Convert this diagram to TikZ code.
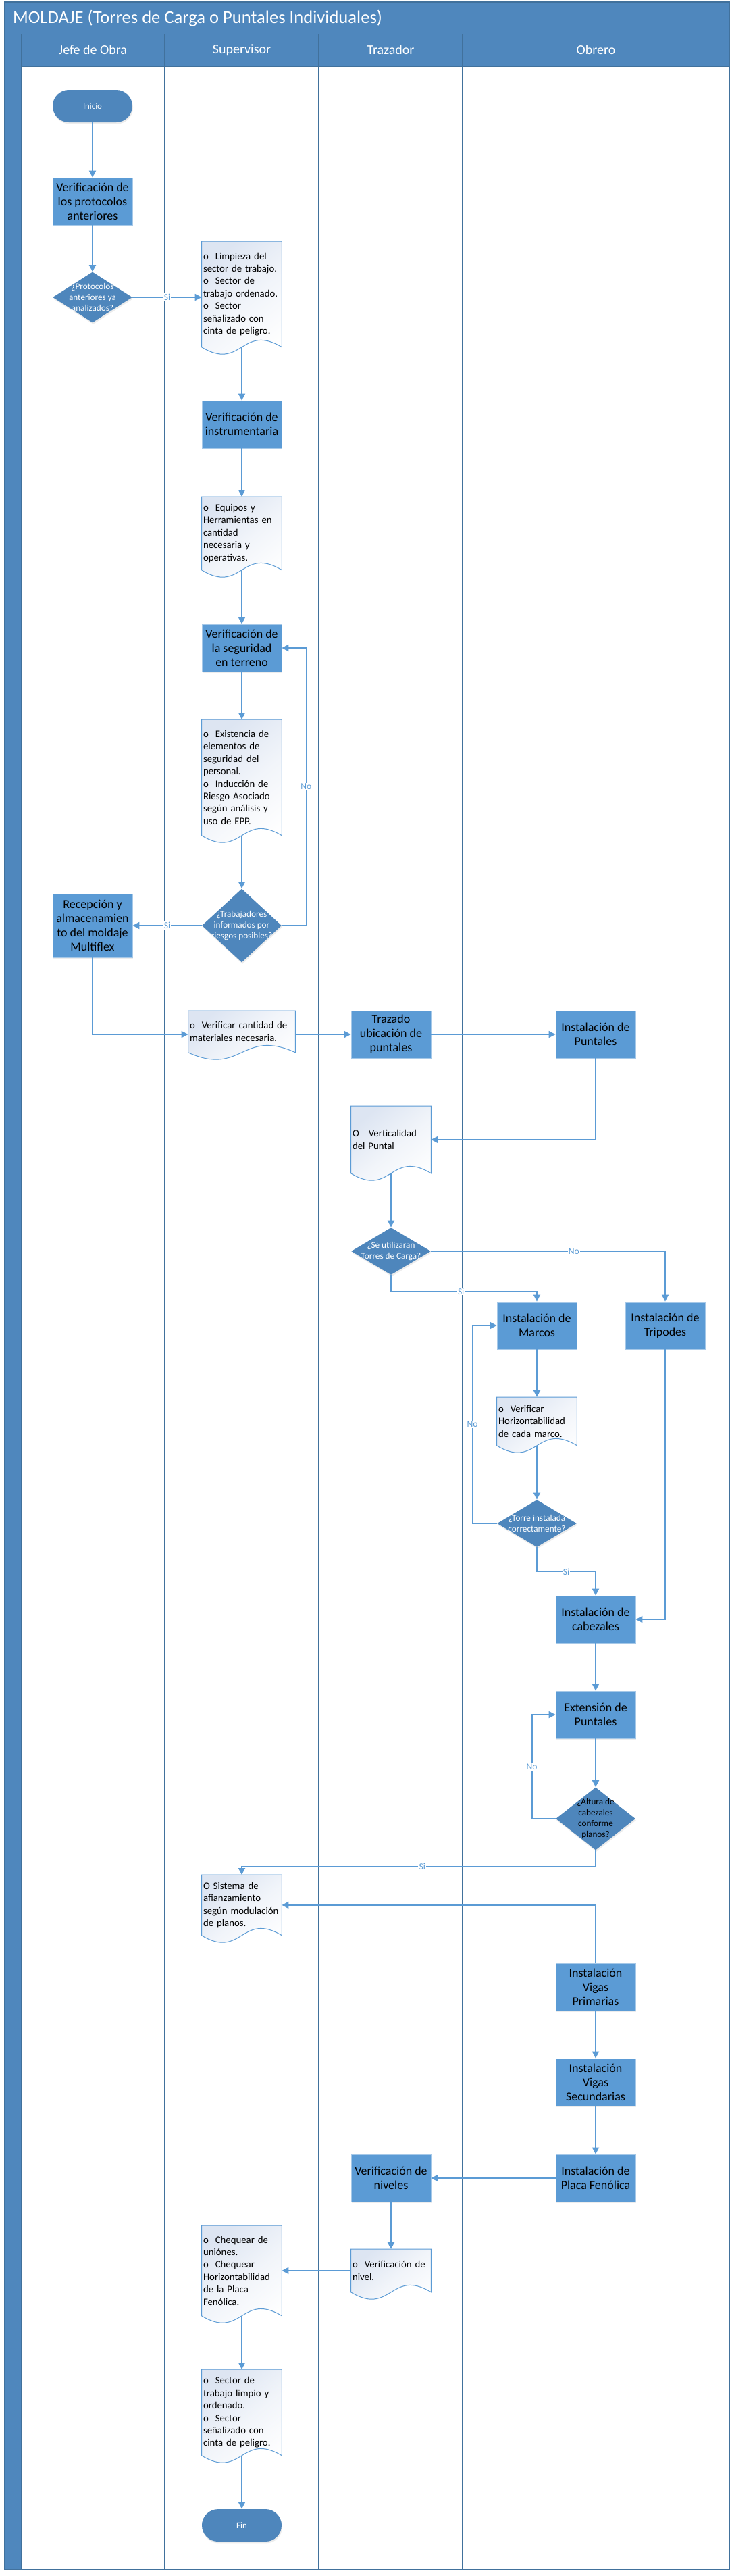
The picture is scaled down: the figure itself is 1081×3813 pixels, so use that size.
\documentclass[tikz,border=0pt]{standalone}
\usepackage{fontspec}
\setmainfont{Carlito}
\usetikzlibrary{arrows.meta,shapes.geometric,calc,shadows}

\definecolor{headBlue}{HTML}{4F87BD}
\definecolor{laneLine}{HTML}{41719C}
\definecolor{procBlue}{HTML}{5B9BD5}
\definecolor{decBlue}{HTML}{4E86BC}
\definecolor{flowBlue}{HTML}{5B9BD5}
\definecolor{docShade}{HTML}{DDE5F2}

\pgfdeclarelayer{back}
\pgfsetlayers{back,main}

% hoja con borde ondulado detras del nodo
\newcommand{\docOutline}[1]{%
  \begin{pgfonlayer}{back}
    \draw[docline] (#1.south west) -- (#1.north west) -- (#1.north east) -- (#1.south east)
      .. controls ($(#1.south)+(0,-36)$) and ($(#1.south)+(0,36)$) .. (#1.south west) -- cycle;
  \end{pgfonlayer}}

\begin{document}
\begin{tikzpicture}[x=0.5pt, y=-0.5pt,
    proc/.style={rectangle, fill=procBlue, draw=procBlue!55!white, line width=0.4pt,
        minimum width=59pt, minimum height=35pt, inner sep=1pt, align=center,
        font=\fontsize{9}{10.5}\selectfont,
        drop shadow={opacity=0.15, shadow xshift=0.5pt, shadow yshift=-1.2pt}},
    term/.style={rectangle, rounded corners=11.9pt, fill=decBlue, minimum width=59pt,
        minimum height=24pt, text=white, font=\fontsize{6.4}{8}\selectfont,
        drop shadow={opacity=0.15, shadow xshift=0.5pt, shadow yshift=-1.2pt}},
    decision/.style={diamond, fill=decBlue, inner sep=0pt, minimum width=59pt, minimum height=35pt,
        drop shadow={opacity=0.15, shadow xshift=0.5pt, shadow yshift=-1.2pt}},
    dectext/.style={text=white, align=center, inner sep=0pt, font=\fontsize{6.6}{8}\selectfont},
    docnode/.style={rectangle, anchor=north, text width=57pt, inner xsep=1pt, inner ysep=0pt,
        align=left, font=\fontsize{7.4}{9.2}\selectfont},
    docline/.style={draw=flowBlue, line width=0.5pt, top color=docShade, bottom color=white,
        middle color=white!60!docShade, shading angle=40},
    flow/.style={draw=flowBlue, line width=0.9pt, -{Triangle[length=5pt,width=5pt]}},
    lbl/.style={fill=white, text=flowBlue, inner sep=0.6pt, font=\fontsize{6.8}{8}\selectfont},
    lanehead/.style={text=white, font=\fontsize{10}{12}\selectfont}
]
    \useasboundingbox (0,0) rectangle (1081,3813);
    \begin{pgfonlayer}{back}
        \fill[white] (0,0) rectangle (1081,3813);
    \end{pgfonlayer}

    % marco y carriles
    \fill[headBlue] (7,3) rectangle (1080,98);
    \fill[headBlue] (7,98) rectangle (31,3803);
    \draw[laneLine] (7,50) -- (1080,50);
    \draw[laneLine] (31,98) -- (1080,98);
    \draw[laneLine] (31,50) -- (31,3803);
    \foreach \xl in {244,472,685}
        \draw[laneLine, line width=0.7pt] (\xl,50) -- (\xl,3803);
    \draw[laneLine, line width=0.8pt] (7,3) rectangle (1080,3803);

    \node[anchor=west, text=white, font=\fontsize{13.3}{16}\selectfont] (titulo) at (12,27)
        {MOLDAJE (Torres de Carga o Puntales Individuales)};
    \node[lanehead] (hjefe) at (137.5,74) {Jefe de Obra};
    \node[lanehead] (hsup) at (358,74) {Supervisor};
    \node[lanehead] (htraz) at (578.5,74) {Trazador};
    \node[lanehead] (hobr) at (882.5,74) {Obrero};

    % Jefe de Obra
    \node[term] (inicio) at (137,157) {Inicio};
    \node[proc] (verprot) at (137,298) {Verificación de\\los protocolos\\anteriores};
    \node[decision, minimum height=37.5pt,
        label={[dectext]center:{¿Protocolos\\anteriores ya\\analizados?}}] (dprot) at (137,440) {};
    \node[proc, minimum height=47pt] (recep) at (137,1370) {Recepción y\\almacenamien\\to del moldaje\\Multiflex};

    % Supervisor
    \node[docnode, minimum height=78pt] (doclimp) at (358,357)
        {o\hspace{5pt}Limpieza del\\sector de trabajo.\\o\hspace{5pt}Sector de\\trabajo ordenado.\\o\hspace{5pt}Sector\\señalizado con\\cinta de peligro.};
    \node[proc] (verinst) at (358,628) {Verificación de\\instrumentaria};
    \node[docnode, minimum height=54pt] (docequ) at (358,735)
        {o\hspace{5pt}Equipos y\\Herramientas en\\cantidad\\necesaria y\\operativas.};
    \node[proc] (verseg) at (358,959) {Verificación de\\la seguridad\\en terreno};
    \node[docnode, minimum height=85.5pt] (docexist) at (358,1065)
        {o\hspace{5pt}Existencia de\\elementos de\\seguridad del\\personal.\\o\hspace{5pt}Inducción de\\Riesgo Asociado\\según análisis y\\uso de EPP.};
    \node[decision, minimum height=54.5pt,
        label={[dectext]center:{¿Trabajadores\\informados por\\riesgos posibles?}}] (dtrab) at (358,1370) {};
    \node[docnode, text width=77pt, minimum height=30.5pt] (docverif) at (358,1496)
        {o\hspace{5pt}Verificar cantidad de\\materiales necesaria.};
    \node[docnode, minimum height=44.5pt] (docsist) at (358,2775)
        {O Sistema de\\afianzamiento\\según modulación\\de planos.};
    \node[docnode, minimum height=66.5pt] (docchequear) at (358,3294)
        {o\hspace{5pt}Chequear de\\uniónes.\\o\hspace{5pt}Chequear\\Horizontabilidad\\de la Placa\\Fenólica.};
    \node[docnode, minimum height=63.5pt] (docsector) at (358,3507)
        {o\hspace{5pt}Sector de\\trabajo limpio y\\ordenado.\\o\hspace{5pt}Sector\\señalizado con\\cinta de peligro.};
    \node[term] (fin) at (358,3738) {Fin};

    % Trazador
    \node[proc] (trazado) at (579,1531) {Trazado\\ubicación de\\puntales};
    \node[docnode, minimum height=49.5pt] (docvert) at (579,1637)
        {O\hspace{7pt}Verticalidad\\del Puntal};
    \node[decision,
        label={[dectext]center:{¿Se utilizaran\\Torres de Carga?}}] (dtorres) at (579,1852) {};
    \node[proc] (vernivel) at (579,3224) {Verificación de\\niveles};
    \node[docnode, minimum height=31.5pt] (docnivel) at (579,3329)
        {o\hspace{5pt}Verificación de\\nivel.};

    % Obrero
    \node[proc] (instpunt) at (882,1531) {Instalación de\\Puntales};
    \node[proc] (marcos) at (795,1962) {Instalación de\\Marcos};
    \node[proc] (tripodes) at (985,1962) {Instalación de\\Tripodes};
    \node[docnode, minimum height=35.5pt] (dochoriz) at (795,2068)
        {o\hspace{5pt}Verificar\\Horizontabilidad\\de cada marco.};
    \node[decision,
        label={[dectext]center:{¿Torre instalada\\correctamente?}}] (dtorre) at (795,2255) {};
    \node[proc] (cabez) at (882,2397) {Instalación de\\cabezales};
    \node[proc] (extens) at (882,2538) {Extensión de\\Puntales};
    \node[decision, minimum height=46.5pt,
        label={[dectext, text=black]center:{¿Altura de\\cabezales\\conforme\\planos?}}] (daltura) at (882,2692) {};
    \node[proc] (vigprim) at (882,2941) {Instalación\\Vigas\\Primarias};
    \node[proc] (vigsec) at (882,3082) {Instalación\\Vigas\\Secundarias};
    \node[proc] (placa) at (882,3224) {Instalación de\\Placa Fenólica};

    \foreach \d in {doclimp,docequ,docexist,docverif,docsist,docchequear,docsector,docvert,docnivel,dochoriz}
        {\docOutline{\d}}

    % conectores
    \draw[flow] (inicio) -- (verprot);
    \draw[flow] (verprot) -- (dprot);
    \draw[flow] (dprot.east) -- node[lbl]{Si} (dprot.east -| doclimp.west);
    \draw[flow] (doclimp.south) -- (verinst);
    \draw[flow] (verinst) -- (docequ);
    \draw[flow] (docequ.south) -- (verseg);
    \draw[flow] (verseg) -- (docexist);
    \draw[flow] (docexist.south) -- (dtrab);
    \draw[flow] (dtrab.west) -- node[lbl]{Si} (recep.east);
    \draw[flow] (dtrab.east) -- ++(36,0) |- node[lbl,pos=0.25]{No} (verseg.east);
    \draw[flow] (recep.south) |- (docverif.west |- trazado.west);
    \draw[flow] (docverif.east |- trazado.west) -- (trazado.west);
    \draw[flow] (trazado) -- (instpunt);
    \draw[flow] (instpunt.south) |- (docvert.east);
    \draw[flow] (docvert.south) -- (dtorres);
    \draw[flow] (dtorres.east) -| node[lbl,pos=0.305]{No} (tripodes.north);
    \draw[flow] (dtorres.south) -- ++(0,24) -| node[lbl,pos=0.24]{Si} (marcos.north);
    \draw[flow] (marcos) -- (dochoriz);
    \draw[flow] (dochoriz.south) -- (dtorre);
    \draw[flow] (dtorre.west) -- ++(-36,0) |- node[lbl,pos=0.25]{No} (marcos.west);
    \draw[flow] (dtorre.south) -- ++(0,36) -| node[lbl,pos=0.25]{Si} (cabez.north);
    \draw[flow] (tripodes.south) |- (cabez.east);
    \draw[flow] (cabez) -- (extens);
    \draw[flow] (extens) -- (daltura);
    \draw[flow] (daltura.west) -- ++(-35,0) |- node[lbl,pos=0.25]{No} (extens.west);
    \draw[flow] (daltura.south) -- ++(0,24) -| node[lbl,pos=0.245]{Si} (docsist.north);
    \draw[flow] (vigprim.north) |- (docsist.east);
    \draw[flow] (vigprim) -- (vigsec);
    \draw[flow] (vigsec) -- (placa);
    \draw[flow] (placa) -- (vernivel);
    \draw[flow] (vernivel) -- (docnivel);
    \draw[flow] (docnivel.west) -- (docnivel.west -| docchequear.east);
    \draw[flow] (docchequear.south) -- (docsector);
    \draw[flow] (docsector.south) -- (fin);
\end{tikzpicture}
\end{document}
